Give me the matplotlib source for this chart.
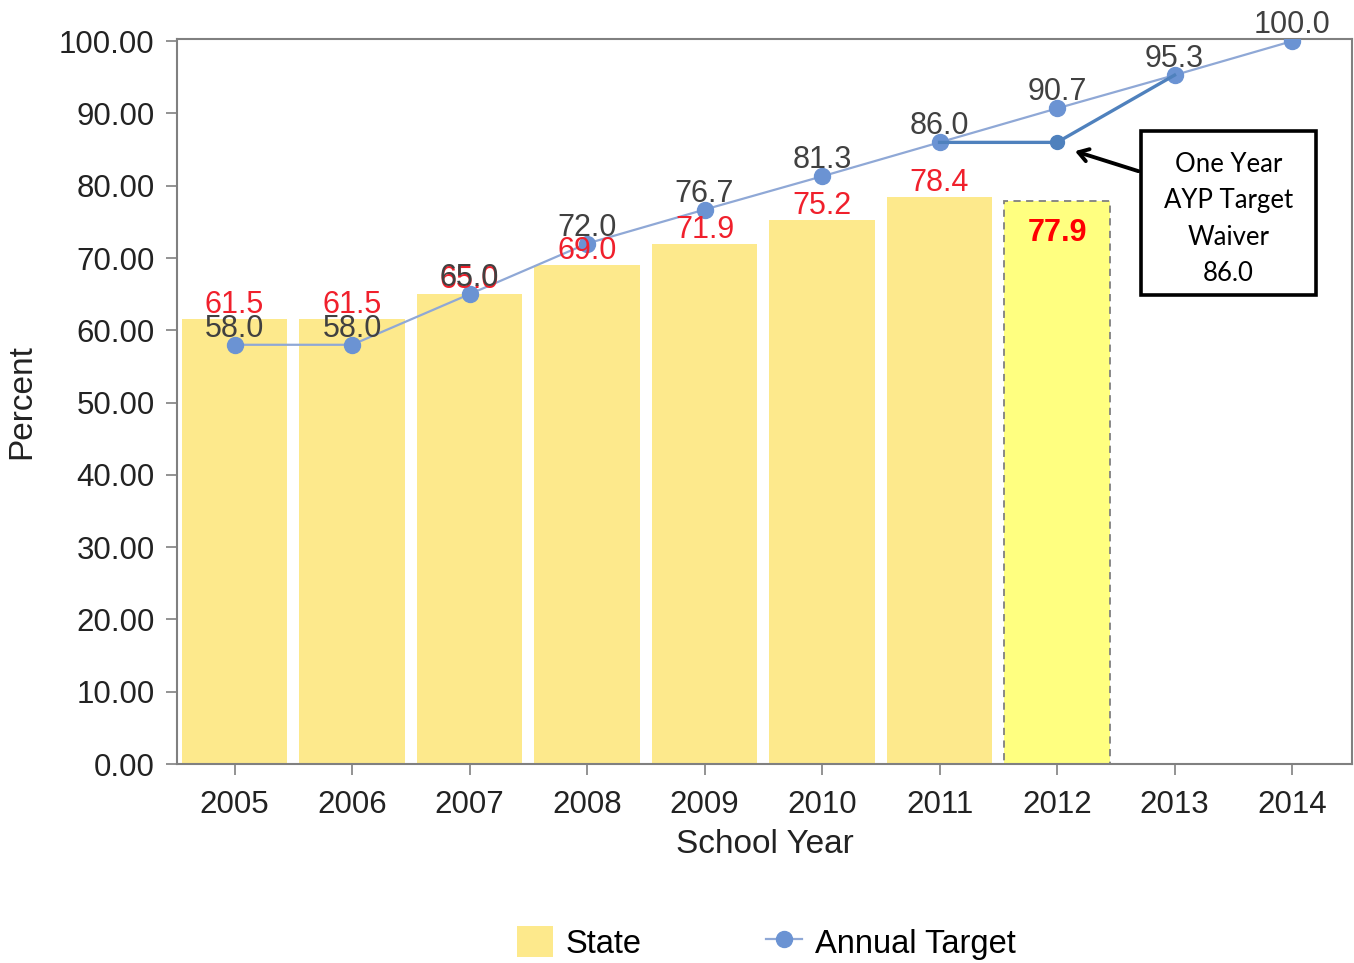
import matplotlib
matplotlib.use("Agg")
import matplotlib.pyplot as plt
from matplotlib.patches import Rectangle
from matplotlib.lines import Line2D
from matplotlib.patches import Patch

years = ["2005", "2006", "2007", "2008", "2009", "2010", "2011", "2012", "2013", "2014"]
state = [61.5, 61.5, 65.0, 69.0, 71.9, 75.2, 78.4]
state_2012 = 77.9
target = [58.0, 58.0, 65.0, 72.0, 76.7, 81.3, 86.0, 90.7, 95.3, 100.0]
waiver_years = ["2011", "2012", "2013"]
waiver = [86.0, 86.0, 95.3]
yticks = [0, 10, 20, 30, 40, 50, 60, 70, 80, 90, 100]

plt.rcParams['font.family'] = ['Liberation Sans', 'DejaVu Sans']

fig = plt.figure(figsize=(13.54, 9.63), dpi=100)
ax = fig.add_axes([0.1307, 0.2066, 0.8678, 0.7529])

x = list(range(len(years)))
bar_col = "#FDE98C"
ax.bar(x[:len(state)], state, width=0.9, color=bar_col, zorder=1)
i12 = years.index("2012")
ax.bar([i12], [state_2012], width=0.9, color="#FFFF80", edgecolor="#808080",
       linestyle=(0, (4, 3)), linewidth=1.3, zorder=1)

line_col = "#8FA8D6"
mk_col = "#6B93D3"
ax.plot(x, target, color=line_col, lw=1.6, marker="o", markersize=11.5,
        markerfacecolor=mk_col, markeredgecolor=mk_col, zorder=3)

wx = [years.index(y) for y in waiver_years]
ax.plot(wx, waiver, color="#4F81BD", lw=2.4, marker="o", markersize=10,
        markerfacecolor="#4F81BD", markeredgecolor="#4F81BD", zorder=4,
        markevery=[1])

for xi, v in zip(x, state):
    ax.annotate(f"{v:.1f}", (xi, v), xytext=(0, 10.5), textcoords="offset points",
                ha="center", va="center", color="#F0202C", fontsize=22, zorder=5)
for xi, v in zip(x, target):
    ax.annotate(f"{v:.1f}", (xi, v), xytext=(0, 11.5), textcoords="offset points",
                ha="center", va="center", color="#404040", fontsize=22, zorder=6,
                annotation_clip=False)
ax.annotate(f"{state_2012:.1f}", (i12, state_2012), xytext=(0, -23),
            textcoords="offset points", ha="center", va="center", color="#FF0000",
            fontsize=22, fontweight="bold", zorder=5)

# annotation box
ax.add_patch(Rectangle((7.715, 64.9), 1.49, 22.7, fill=False, edgecolor="black",
                       linewidth=2.6, zorder=7, clip_on=False))
ax.text(8.46, 75.4, "One Year\nAYP Target\nWaiver\n86.0", ha="center", va="center",
        fontsize=18.5, family=["Lato", "DejaVu Sans"], linespacing=1.58, zorder=7)
ax.annotate("", xy=(7.13, 84.9), xytext=(7.715, 81.9),
            arrowprops=dict(arrowstyle="->,head_length=0.7,head_width=0.45",
                            color="black", lw=2.8), zorder=7)

ax.set_xlim(-0.49, 9.51)
ax.set_ylim(0, 100.3)
ax.set_xticks(x)
ax.set_xticklabels(years)
ax.set_yticks(yticks)
ax.set_yticklabels([f"{v:.2f}" for v in yticks])
ax.tick_params(axis="both", labelsize=22.5, colors="#808080", labelcolor="#222222",
               length=8, width=1.2, direction="out")
ax.tick_params(axis="x", pad=11)
ax.tick_params(axis="y", pad=8)
for s in ax.spines.values():
    s.set_color("#808080")
    s.set_linewidth(1.5)

ax.set_xlabel("School Year", fontsize=24, color="#222222", labelpad=6)
ax.set_ylabel("Percent", fontsize=24, color="#222222", labelpad=16)

handles = [Patch(facecolor=bar_col, edgecolor="none"),
           Line2D([0], [0], color=line_col, lw=1.6, marker="o", markersize=11.5,
                  markerfacecolor=mk_col, markeredgecolor=mk_col)]
fig.legend(handles, ["State", "Annual Target"], loc="center", bbox_to_anchor=(0.566, 0.021),
           ncol=2, frameon=False, fontsize=23.5, handlelength=1.1, handleheight=1.1,
           handletextpad=0.4, columnspacing=3.8)

fig.savefig("out.png", dpi=100)
